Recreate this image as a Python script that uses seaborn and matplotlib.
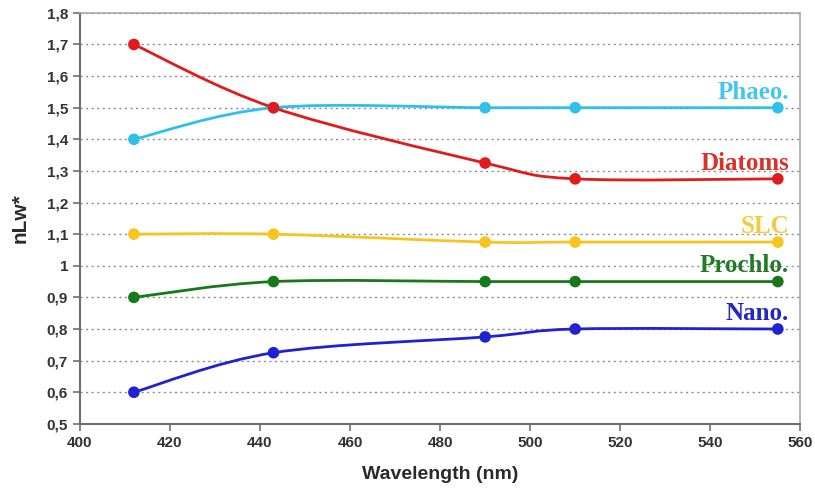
import matplotlib
matplotlib.use("Agg")
import matplotlib.pyplot as plt
from matplotlib.path import Path
from matplotlib.patches import PathPatch
from matplotlib.ticker import FuncFormatter, MultipleLocator
import numpy as np
import pandas as pd
import seaborn as sns

wavelength = [412, 443, 490, 510, 555]
phaeo = [1.40, 1.50, 1.50, 1.50, 1.50]
diatoms = [1.70, 1.50, 1.325, 1.275, 1.275]
slc = [1.10, 1.10, 1.075, 1.075, 1.075]
prochlo = [0.90, 0.95, 0.95, 0.95, 0.95]
nano = [0.60, 0.725, 0.775, 0.80, 0.80]

names = ["Phaeo.", "Diatoms", "SLC", "Prochlo.", "Nano."]
series = [phaeo, diatoms, slc, prochlo, nano]
colors = ["#2ec0ea", "#e01b1b", "#f7c51e", "#17791a", "#1f22d0"]
label_colors = ["#45c6ee", "#d8322a", "#f3cb3a", "#237a25", "#2525c4"]

sns.set_style("white")
plt.rcParams["font.family"] = ["Liberation Sans", "DejaVu Sans"]

fig = plt.figure(figsize=(8.15, 4.94), dpi=100)
ax = fig.add_axes([0.098, 0.142, 0.884, 0.832])


def smooth_path(xs, ys):
    # bezier segments like a spreadsheet "smoothed line"
    pts = list(zip(xs, ys))
    verts = [pts[0]]
    codes = [Path.MOVETO]
    n = len(pts)
    for i in range(n - 1):
        p0 = pts[i - 1] if i > 0 else pts[i]
        p1 = pts[i]
        p2 = pts[i + 1]
        p3 = pts[i + 2] if i + 2 < n else pts[i + 1]
        c1 = (p1[0] + (p2[0] - p0[0]) / 6, p1[1] + (p2[1] - p0[1]) / 6)
        c2 = (p2[0] - (p3[0] - p1[0]) / 6, p2[1] - (p3[1] - p1[1]) / 6)
        verts += [c1, c2, p2]
        codes += [Path.CURVE4] * 3
    return Path(verts, codes)


rows = []
for name, vals in zip(names, series):
    for w, v in zip(wavelength, vals):
        rows.append({"Wavelength": w, "nLw": v, "group": name})
df = pd.DataFrame(rows)

for name, vals, col in zip(names, series, colors):
    ax.add_patch(PathPatch(smooth_path(wavelength, vals), facecolor="none",
                           edgecolor=col, lw=2.0, zorder=3))

sns.scatterplot(data=df, x="Wavelength", y="nLw", hue="group", palette=colors,
                hue_order=names, s=70, edgecolor="none", legend=False, ax=ax, zorder=4)

for name, vals, col in zip(names, series, label_colors):
    ax.annotate(name, (wavelength[-1], vals[-1]), xytext=(8, 3),
                textcoords="offset points", ha="right", va="bottom",
                color=col, fontsize=18, fontweight="bold",
                family=["Liberation Serif", "DejaVu Serif"])

ax.set_xlim(400, 560)
ax.set_ylim(0.5, 1.8)
ax.xaxis.set_major_locator(MultipleLocator(20))
ax.yaxis.set_major_locator(MultipleLocator(0.1))
ax.yaxis.set_major_formatter(FuncFormatter(lambda v, p: ("%g" % round(v, 1)).replace(".", ",")))

ax.grid(axis="y", linestyle=(0, (1.5, 2.5)), color="#8c8c8c", lw=1.0)
ax.grid(axis="x", visible=False)
for s in ["top", "right"]:
    ax.spines[s].set_color("#a8a8a8")
    ax.spines[s].set_linewidth(1.2)
for s in ["left", "bottom"]:
    ax.spines[s].set_color("#6e6e6e")
    ax.spines[s].set_linewidth(1.5)

ax.tick_params(axis="both", which="major", length=5, width=1.2, color="#6e6e6e",
               labelsize=11, labelcolor="#333333", direction="out",
               left=True, bottom=True)
for lab in ax.get_xticklabels() + ax.get_yticklabels():
    lab.set_fontweight("bold")

ax.set_xlabel("Wavelength (nm)", fontsize=14, fontweight="bold", color="#2a2a2a", labelpad=12)
ax.set_ylabel("nLw*", fontsize=15, fontweight="bold", color="#2a2a2a", labelpad=12)

fig.savefig("out.png", dpi=100)
